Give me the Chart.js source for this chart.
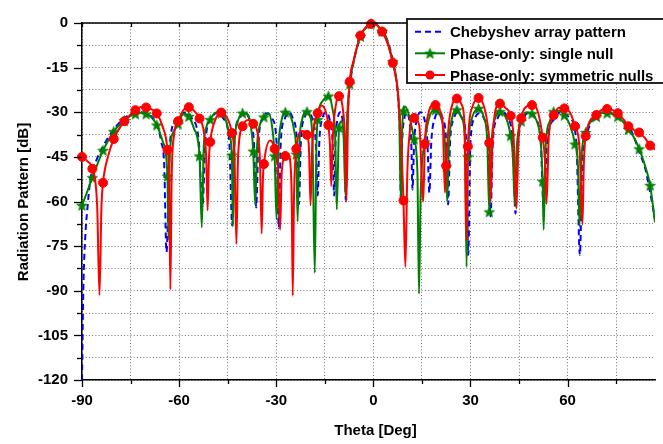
<!DOCTYPE html>
<html>
<head>
<meta charset="utf-8">
<script src="https://cdn.jsdelivr.net/npm/chart.js@4.4.1/dist/chart.umd.min.js"></script>
<style>
  html, body { margin: 0; padding: 0; background: #fff; }
</style>
</head>
<body>
<canvas id="radPlot" width="663" height="444"></canvas>
<script>
// angles where the markers sit (shared by both phase-only curves)
const markTheta = [-90, -86.8, -83.5, -80.2, -76.9, -73.5, -70.2, -66.9, -63.6, -60.3, -57.0, -53.7, -50.4, -47.0,
  -43.7, -40.4, -37.1, -33.8, -30.5, -27.2, -23.8, -20.5, -17.2, -13.9, -10.6, -7.3, -4.0, -0.7, 2.7, 6.0, 9.3,
  12.6, 15.9, 19.2, 22.5, 25.8, 29.2, 32.5, 35.8, 39.1, 42.4, 45.7, 49.0, 52.3, 55.7, 59.0, 62.3, 65.6, 68.9,
  72.2, 75.5, 78.8, 82.1, 85.5]
const singleMarkDb = [-61.3, -52, -42.8, -36.5, -32.8, -30.6, -30.6, -34.3, -51.5, -34, -31.4, -44.7, -32.5, -30.3,
  -44.4, -30.3, -43.1, -31.6, -44.7, -30, -44.1, -29.8, -32.5, -24.6, -35.2, -20.5, -4.5, -0.3, -2.8, -13, -29.5,
  -39, -40, -29.2, -48.3, -29.2, -45, -28.7, -63.5, -29.8, -37.9, -33, -30.5, -53.2, -29.8, -31, -40.7, -36.8,
  -31.5, -30.3, -31.5, -35.8, -42.3, -54.6]
const symMarkDb = [-45, -49, -53.7, -39, -33, -29.3, -28.4, -30.4, -42.6, -33, -28.3, -32.1, -40, -30.1,
  -37, -34.7, -33.9, -47.4, -42.3, -44.7, -42.3, -37.6, -30.3, -34.3, -24.6, -19.7, -4.2, -0.3, -2.9, -13.4, -59.7,
  -31.9, -40.7, -27.6, -48, -25.4, -41.5, -25.2, -40.3, -27.1, -31.2, -32, -27.6, -38.5, -31, -28.7, -34.7, -38,
  -30.9, -28.9, -30.3, -34.7, -36.8, -41.2]

// Chebyshev reference pattern
const chebTheta = [-90, -89.6, -89, -88.3, -87.4, -85.5, -83, -80, -77, -74, -71.5, -69, -67, -65.5, -64.6, -63.9,
  -62.8, -60.6, -57.7, -56.1, -53.9, -52.8,
  -51.9, -50.0, -48.0, -46.4, -44.5, -43.6,
  -42.9, -41.4, -39.9, -38.4, -36.9, -36.2,
  -35.5, -34.1, -32.7, -31.3, -29.9, -29.2,
  -28.6, -27.3, -26.1, -24.9, -23.6, -23.0,
  -22.4, -21.3, -20.0, -18.9, -17.8, -17.2,
  -16.7, -15.7, -14.5, -13.6, -12.6, -12.1,
  -11.7, -11.0, -10.1, -9.6, -8.9, -8.5,
  -8.2, -7.7, -7.2, -6, -4, -2, 0, 2, 4, 6, 7.2, 7.7, 8.2, 8.5,
  8.9, 9.6, 10.1, 11.0, 11.7, 12.1,
  12.6, 13.6, 14.5, 15.7, 16.7, 17.3,
  17.9, 19.0, 20.0, 21.4, 22.5, 23.1,
  23.7, 24.9, 26.1, 27.4, 28.7, 29.3,
  30.0, 31.3, 32.7, 34.1, 35.5, 36.2,
  36.9, 38.4, 39.9, 41.5, 43.1, 43.9,
  44.8, 46.4, 48.0, 50.0, 51.7, 52.6,
  53.7, 56.1, 57.7, 60.7, 62.7, 63.8,
  64.5, 65.4, 67, 69, 71.5, 74, 77, 80, 82, 84, 85.3, 87]
const chebDb = [-120, -90, -72, -62, -52.5, -46, -40.5, -35.5, -32, -30.4, -30, -31, -34, -40, -48, -77,
  -40, -32, -30, -32, -40, -62,
  -40, -32, -30.2, -32, -40, -68,
  -40, -32, -30, -32, -40, -62,
  -40, -32, -30.3, -32, -40, -69,
  -40, -32, -30, -32, -40, -61,
  -40, -32, -30.2, -32, -40, -58,
  -40, -32, -30, -32, -40, -58,
  -40, -32, -30, -32, -40, -60,
  -37, -26.5, -20.5, -12.5, -4.9, -1.2, 0, -1.2, -4.9, -12.5, -20.5, -26.5, -37, -60,
  -40, -32, -30, -32, -40, -56,
  -40, -32, -30, -32, -40, -57,
  -40, -32, -30.2, -32, -40, -61,
  -40, -32, -30, -32, -40, -78,
  -40, -32, -30.3, -32, -40, -65,
  -40, -32, -30, -32, -40, -64,
  -40, -32, -30.2, -32, -40, -62,
  -40, -32, -30, -32, -40, -78,
  -48, -40, -34, -31, -30, -30.5, -32.5, -37, -43, -49, -55.8, -66]

// phase-only, single null: line points between the markers
const singleTheta = [-88.5, -78.5, -75.2, -71.8, -68.5, -65.0, -63.3, -62.9, -61.9, -58.6, -55.4, -53.0, -52.4,
  -51.6, -48.7, -45.5, -44.4, -43.4, -42.9, -42.0, -38.8, -37.8, -36.5, -35.9, -35.0, -32.3, -31.2, -29.9, -29.3,
  -28.4, -25.5, -24.5, -23.4, -22.9, -22.0, -19.5, -18.8, -18.1, -17.6, -15.5, -12.6, -11.8, -11.3, -9.9, -9.2,
  -8.6, -8.1, -6.0, -2.0, 0.0, 4.0, 7.3, 8.0, 8.5, 8.9, 9.8, 11.0, 13.6, 14.1, 14.6, 17.5, 20.8, 21.9, 22.8, 23.3,
  24.3, 27.3, 28.2, 28.8, 30.2, 34.2, 35.2, 36.4, 37.6, 41.2, 43.1, 43.7, 44.3, 47.4, 50.5, 51.7, 52.6, 53.2, 54.5,
  57.4, 60.8, 63.2, 63.7, 64.3, 67.2, 70.6, 73.8, 77.2, 80.5, 83.8, 87.0]
const singleDb = [-57, -34.3, -31.3, -30.2, -31.8, -40, -72.7, -45, -37, -30.5, -35.5, -68.7, -42,
  -35, -30.2, -33, -38, -68.4, -41, -33.5, -30.8, -35, -61, -41, -34, -30.5, -35.5, -66, -42,
  -33, -31.5, -36, -66.7, -42, -32.5, -31.5, -40, -84, -42, -26, -29, -38, -62.7, -33, -38,
  -58, -33, -12.5, -1.2, 0, -5, -20.5, -32, -60, -36, -28.1, -31, -50, -91, -58, -31, -31.5, -37.5, -60, -42,
  -32, -32, -38, -82, -33, -32, -40, -42, -32, -32.5, -45, -61.3, -42, -30, -33, -40, -69.5, -42, -33,
  -29.5, -34.5, -48, -68.4, -45, -33, -30.2, -30.6, -33.3, -38.5, -47.5, -67]

// phase-only, symmetric nulls: line points between the markers
const symTheta = [-88.3, -85.3, -84.6, -84.0, -82.0, -78.5, -75.2, -71.8, -68.5, -65.2, -63.1, -62.7, -62.3, -61.6,
  -58.6, -55.4, -52.3, -51.6, -51.2, -50.8, -48.6, -45.4, -42.9, -42.3, -41.8, -38.7, -35.6, -35.0, -34.5, -34.1,
  -31.9, -29.4, -28.8, -28.3, -26.4, -25.5, -25.2, -24.9, -24.5, -22.0, -19.9, -19.4, -18.9, -16.0, -14.8, -13.4,
  -13.0, -12.5, -11.5, -9.6, -8.8, -8.3, -7.8, -6.0, -2.0, 0.0, 4.5, 7.3, 8.0, 8.7, 9.9, 10.5, 11.3, 12.0, 14.2,
  15.4, 17.0, 18.7, 20.6, 21.5, 22.1, 23.3, 24.5, 27.3, 28.2, 28.8, 30.5, 34.3, 35.4, 36.2, 36.8, 37.6, 40.8, 43.3,
  44.2, 44.8, 47.4, 50.7, 53.0, 53.5, 54.2, 57.3, 60.7, 63.7, 64.6, 65.0, 70.5, 73.8, 77.2, 80.5, 83.8, 87.0]
const symDb = [-46.5, -62, -91.5, -62, -45, -35.5, -31, -28.2, -29, -34.5, -52, -89.6, -52, -38,
  -29.2, -29.5, -37, -46, -63, -46, -32, -31.5, -45, -74.3, -45, -32.6, -38, -47, -70.8, -52,
  -39.5, -50, -69.5, -50, -44, -49, -60, -91.7, -58, -36.3, -42, -61.3, -42, -27.7, -29.5, -41,
  -54.8, -38, -27, -27.5, -38, -59.7, -30, -12.3, -1.1, 0, -7.2, -20.5, -29, -42, -82, -50, -36, -31.5, -34.5,
  -60, -30.5, -27.5, -29.5, -35, -57, -34, -27, -27.5, -35, -73.3, -28.5, -28.5, -35, -60.2, -40, -30, -28.5, -38,
  -62.4, -40, -28, -29.5, -46, -60.8, -38, -28.5, -30, -42, -67.8, -48, -29.2, -29.2, -32.3, -36, -38.5, -42.5]

const seriesNames = ['Chebyshev array pattern', 'Phase-only: single null', 'Phase-only: symmetric nulls']

const FONT = '"Liberation Sans", Arial, sans-serif'

const toPoints = (xs, ys) => xs.map((x, i) => ({x: x, y: ys[i]}))
const mergeSorted = (a, b) => a.concat(b).sort((p, q) => p.x - q.x)

const makeStar = (color, R) => {
    const c = document.createElement('canvas')
    const s = Math.ceil(R * 2 + 2)
    c.width = s
    c.height = s
    const g = c.getContext('2d')
    g.translate(s / 2, s / 2 + 0.5)
    g.beginPath()
    for (let i = 0; i < 10; i++) {
        const r = i % 2 ? R * 0.42 : R
        const a = -Math.PI / 2 + i * Math.PI / 5
        g.lineTo(r * Math.cos(a), r * Math.sin(a))
    }
    g.closePath()
    g.fillStyle = color
    g.fill()
    g.strokeStyle = color
    g.lineWidth = 0.8
    g.stroke()
    return c
}
const starImg = makeStar('#008000', 5.5)

const singleMarks = toPoints(markTheta, singleMarkDb)
const symMarks = toPoints(markTheta, symMarkDb)

const framePlugin = {
    id: 'frame',
    afterDraw(chart) {
        const {ctx, chartArea: a, scales: {x, y}} = chart
        ctx.save()
        ctx.strokeStyle = '#000'
        ctx.lineWidth = 1.5
        ctx.beginPath()
        ctx.moveTo(a.left, a.top)
        ctx.lineTo(a.right, a.top)
        ctx.stroke()

        ctx.lineWidth = 1.3
        x.ticks.forEach(t => {
            const px = Math.round(x.getPixelForValue(t.value)) + 0.5
            const len = t.value % 30 === 0 ? 7 : 4
            ctx.beginPath()
            ctx.moveTo(px, a.bottom)
            ctx.lineTo(px, a.bottom + len)
            ctx.moveTo(px, a.top)
            ctx.lineTo(px, a.top + 4)
            ctx.stroke()
        })
        y.ticks.forEach(t => {
            const py = Math.round(y.getPixelForValue(t.value)) + 0.5
            const len = Math.abs(t.value % 15) < 1e-6 ? 8 : 5
            ctx.beginPath()
            ctx.moveTo(a.left - len, py)
            ctx.lineTo(a.left, py)
            ctx.stroke()
        })

        // axis titles
        ctx.fillStyle = '#000'
        ctx.font = 'bold 15px ' + FONT
        ctx.textAlign = 'center'
        ctx.textBaseline = 'alphabetic'
        ctx.fillText('Theta [Deg]', 375.5, 435)
        ctx.save()
        ctx.translate(28, 202)
        ctx.rotate(-Math.PI / 2)
        ctx.fillText('Radiation Pattern [dB]', 0, 0)
        ctx.restore()

        // legend box
        const lx = 407, ly = 19, lh = 64
        ctx.fillStyle = '#fff'
        ctx.fillRect(lx, ly, 300, lh)
        ctx.strokeStyle = '#111'
        ctx.lineWidth = 1.8
        ctx.strokeRect(lx, ly, 300, lh)
        const rows = [31.7, 53.3, 75]
        const colors = ['#0000ff', '#008000', '#ff0000']
        rows.forEach((ry, i) => {
            ctx.strokeStyle = colors[i]
            ctx.lineWidth = 2
            ctx.setLineDash(i === 0 ? [6, 4] : [])
            ctx.beginPath()
            ctx.moveTo(415, ry)
            ctx.lineTo(445, ry)
            ctx.stroke()
            ctx.setLineDash([])
            if (i === 1) ctx.drawImage(starImg, 430 - starImg.width / 2, ry - starImg.height / 2)
            if (i === 2) {
                ctx.fillStyle = colors[i]
                ctx.beginPath()
                ctx.arc(430, ry, 4.5, 0, Math.PI * 2)
                ctx.fill()
            }
            ctx.fillStyle = '#000'
            ctx.textAlign = 'left'
            ctx.fillText(seriesNames[i], 450, ry + 5.5)
        })
        ctx.restore()
    }
}

const tickFont = {family: FONT, size: 15, weight: 'bold'}

new Chart(document.getElementById('radPlot'), {
    type: 'scatter',
    data: {
        datasets: [
            {
                label: seriesNames[2] + ' markers',
                data: symMarks,
                showLine: false,
                pointStyle: 'circle',
                pointRadius: 4.5,
                pointBackgroundColor: '#ff0000',
                pointBorderColor: '#ff0000',
                pointBorderWidth: 1,
                clip: 8,
                order: 0
            },
            {
                label: seriesNames[2],
                data: mergeSorted(toPoints(symTheta, symDb), symMarks),
                showLine: true,
                borderColor: '#ff0000',
                borderWidth: 2,
                pointRadius: 0,
                cubicInterpolationMode: 'monotone',
                order: 1
            },
            {
                label: seriesNames[1] + ' markers',
                data: singleMarks,
                showLine: false,
                pointStyle: starImg,
                pointRadius: 5,
                clip: 8,
                order: 2
            },
            {
                label: seriesNames[1],
                data: mergeSorted(toPoints(singleTheta, singleDb), singleMarks),
                showLine: true,
                borderColor: '#008000',
                borderWidth: 2,
                pointRadius: 0,
                cubicInterpolationMode: 'monotone',
                order: 3
            },
            {
                label: seriesNames[0],
                data: toPoints(chebTheta, chebDb),
                showLine: true,
                borderColor: '#0000ff',
                borderWidth: 2,
                borderDash: [6, 4],
                pointRadius: 0,
                cubicInterpolationMode: 'monotone',
                order: 4
            }
        ]
    },
    options: {
        responsive: false,
        animation: false,
        events: [],
        layout: {padding: {top: 12, right: 8, left: 0, bottom: 0}},
        plugins: {legend: {display: false}, tooltip: {enabled: false}},
        scales: {
            x: {
                type: 'linear',
                min: -90,
                max: 87,
                afterBuildTicks: s => { s.ticks = s.ticks.filter(t => Math.abs(t.value % 15) < 1e-6) },
                afterFit: s => { s.height = 64 },
                ticks: {
                    stepSize: 15,
                    includeBounds: false,
                    autoSkip: false,
                    maxRotation: 0,
                    padding: 12,
                    color: '#000',
                    font: tickFont,
                    callback: v => v % 30 === 0 ? String(v) : ''
                },
                grid: {color: 'rgba(0,0,0,0.55)', lineWidth: 1, drawTicks: false},
                border: {display: true, color: '#000', width: 1.5, dash: [1, 2.2]}
            },
            y: {
                min: -120,
                max: 0,
                afterFit: s => { s.width = 82 },
                ticks: {
                    stepSize: 7.5,
                    autoSkip: false,
                    padding: 14,
                    color: '#000',
                    font: tickFont,
                    callback: v => Math.abs(v % 15) < 1e-6 ? String(v) : ''
                },
                grid: {color: 'rgba(0,0,0,0.55)', lineWidth: 1, drawTicks: false},
                border: {display: true, color: '#000', width: 1.5, dash: [1, 2.2]}
            }
        }
    },
    plugins: [framePlugin]
})
</script>
</body>
</html>
